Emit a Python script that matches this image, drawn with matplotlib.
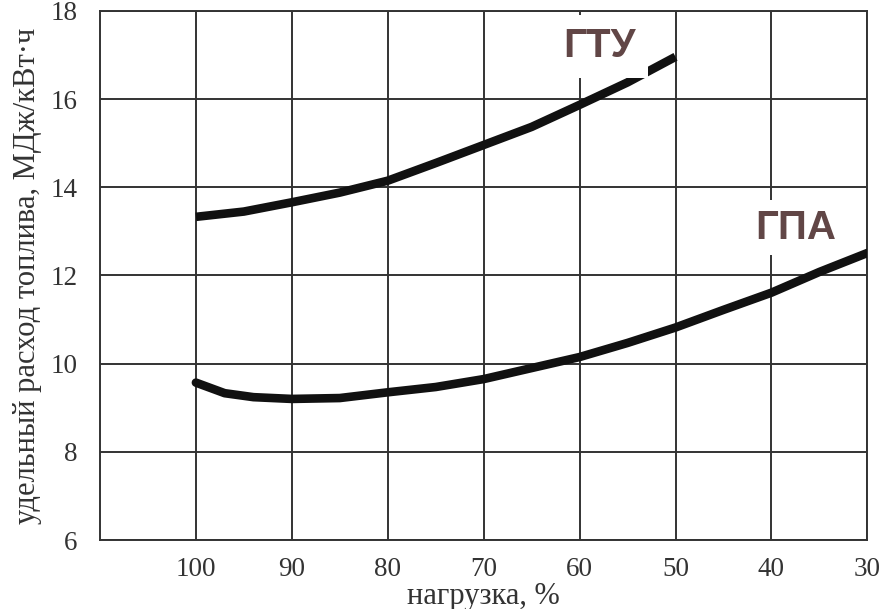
import matplotlib
matplotlib.use("Agg")
import matplotlib.pyplot as plt

gtu_load = [100, 95, 90, 85, 80, 75, 70, 65, 60, 55, 50]
gtu_fuel = [13.33, 13.45, 13.66, 13.88, 14.15, 14.55, 14.96, 15.37, 15.87, 16.38, 16.96]

gpa_load = [100, 97, 94, 90, 85, 80, 75, 70, 65, 60, 55, 50, 45, 40, 35, 30]
gpa_fuel = [9.57, 9.33, 9.24, 9.20, 9.22, 9.35, 9.47, 9.65, 9.90, 10.15, 10.47, 10.82, 11.22, 11.61, 12.08, 12.51]

x_ticks = [100, 90, 80, 70, 60, 50, 40, 30]
y_ticks = [6, 8, 10, 12, 14, 16, 18]

label_color = "#614646"
grid_color = "#333333"
text_color = "#333333"

fig = plt.figure(figsize=(8.81, 6.09), dpi=100)
ax = fig.add_axes([0.1135, 0.1133, 0.871, 0.8687])

ax.set_xlim(110, 30)
ax.set_ylim(6, 18)
ax.set_xticks(x_ticks)
ax.set_yticks(y_ticks)
ax.grid(True, color=grid_color, linewidth=1.4)
ax.set_axisbelow(True)
for s in ax.spines.values():
    s.set_color(grid_color)
    s.set_linewidth(1.4)

ax.tick_params(length=0, labelsize=19.5, colors=text_color)
ax.tick_params(axis="x", pad=12)
ax.tick_params(axis="y", pad=16)
for lbl in ax.get_xticklabels() + ax.get_yticklabels():
    lbl.set_family("Liberation Serif")

ax.plot(gtu_load, gtu_fuel, color="#111111", linewidth=6.2, solid_capstyle="butt", zorder=3)
ax.plot(gpa_load, gpa_fuel, color="#111111", linewidth=6.2, solid_capstyle="round", zorder=3)

# curve names on white patches, like in the source figure
ax.text(57.9, 17.2, "ГТУ", fontsize=29, fontweight="bold", family="Liberation Sans",
        color=label_color, ha="center", va="center",
        bbox=dict(facecolor="white", edgecolor="none", pad=9), zorder=4)
ax.text(37.5, 13.08, "ГПА", fontsize=29, fontweight="bold", family="Liberation Sans",
        color=label_color, ha="center", va="center",
        bbox=dict(facecolor="white", edgecolor="none", pad=6), zorder=4)

ax.set_xlabel("нагрузка, %", family="Liberation Serif", fontsize=22, labelpad=0, color=text_color)
ax.set_ylabel("удельный расход топлива, МДж/кВт·ч", family="Liberation Serif", fontsize=22,
              color=text_color)
ax.yaxis.set_label_coords(-0.076, 0.5)

fig.savefig("out.png", dpi=100)
